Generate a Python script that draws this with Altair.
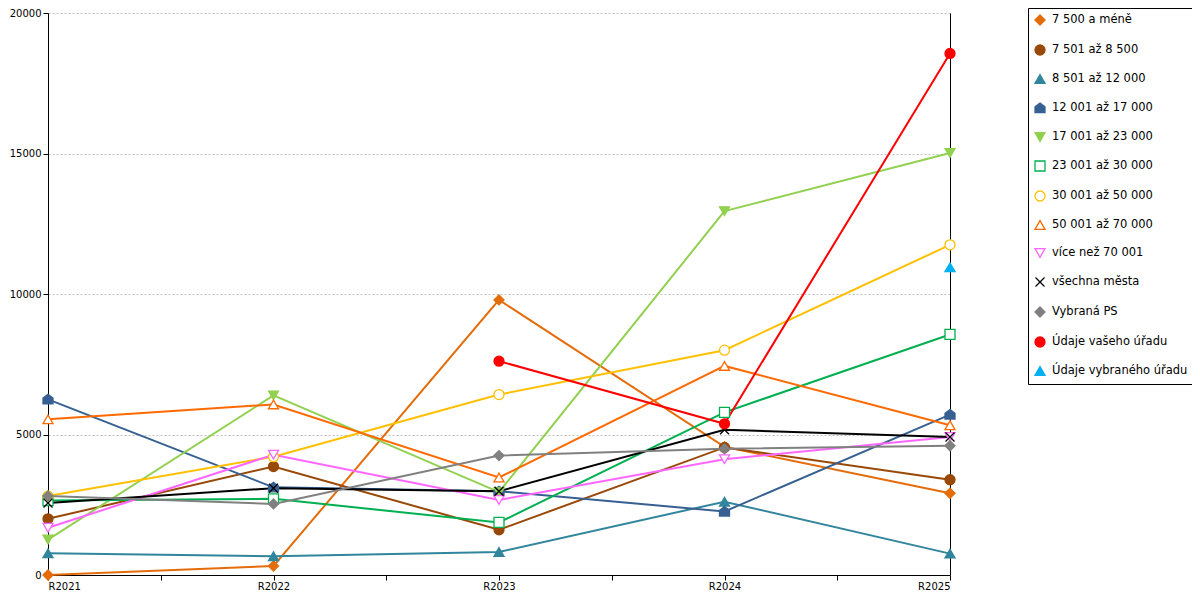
import altair as alt
import pandas as pd

years = ["R2021", "R2022", "R2023", "R2024", "R2025"]

series = [
    "7 500 a méně",
    "7 501 až 8 500",
    "8 501 až 12 000",
    "12 001 až 17 000",
    "17 001 až 23 000",
    "23 001 až 30 000",
    "30 001 až 50 000",
    "50 001 až 70 000",
    "více než 70 001",
    "všechna města",
    "Vybraná PS",
    "Údaje vašeho úřadu",
    "Údaje vybraného úřadu",
]

# values, None = no point
v_do_7500 = [0, 320, 9790, 4560, 2910]
v_7501_8500 = [2000, 3860, 1610, 4540, 3390]
v_8501_12000 = [770, 670, 820, 2610, 760]
v_12001_17000 = [6250, 3120, 2980, 2260, 5710]
v_17001_23000 = [1260, 6390, 2950, 12950, 15020]
v_23001_30000 = [2650, 2710, 1870, 5790, 8560]
v_30001_50000 = [2810, 4210, 6420, 8000, 11750]
v_50001_70000 = [5540, 6070, 3470, 7440, 5330]
v_nad_70001 = [1680, 4280, 2670, 4120, 4910]
v_vsechna = [2560, 3090, 2980, 5170, 4910]
v_vybrana_ps = [2810, 2530, 4250, 4490, 4600]
v_vas_urad = [None, None, 7610, 5380, 18560]
v_vybrany_urad = [None, None, None, None, 10950]

all_values = [
    v_do_7500, v_7501_8500, v_8501_12000, v_12001_17000, v_17001_23000,
    v_23001_30000, v_30001_50000, v_50001_70000, v_nad_70001, v_vsechna,
    v_vybrana_ps, v_vas_urad, v_vybrany_urad,
]

colors = [
    "#E46C0A", "#984807", "#31859C", "#376092", "#92D050", "#00B050",
    "#FFC000", "#FF6A00", "#FF66FF", "#000000", "#808080", "#FF0000", "#00B0F0",
]
house = "M0,-1L1,-0.25L1,0.9L-1,0.9L-1,-0.25Z"
xmark = "M-0.9,-0.9L0.9,0.9M-0.9,0.9L0.9,-0.9"
shapes = [
    "diamond", "circle", "triangle-up", house, "triangle-down", "square",
    "circle", "triangle-up", "triangle-down", xmark, "diamond", "circle", "triangle-up",
]
open_marker = [False, False, False, False, False, True, True, True, True, True, False, False, False]
fills = ["white" if o else c for o, c in zip(open_marker, colors)]

rows = []
for name, vals in zip(series, all_values):
    for i, v in enumerate(vals):
        if v is not None:
            rows.append({"series": name, "idx": i, "value": v})
df = pd.DataFrame(rows)

label_list = "[" + ",".join(f"'{y}'" for y in years) + "]"
x_enc = alt.X(
    "idx:Q",
    scale=alt.Scale(domain=[0, len(years) - 1], nice=False, zero=False),
    axis=alt.Axis(
        values=[i / 2 for i in range(2 * len(years) - 1)],
        labelExpr=f"datum.value % 1 == 0 ? {label_list}[datum.value] : ''",
        title=None, grid=False, domainColor="black", tickColor="black",
        tickSize=5, labelPadding=1, labelFontSize=10, labelColor="black",
    ),
)
y_scale = alt.Scale(domain=[0, 20000], nice=False)

# one shared legend: stroke, fill and shape all on "series"
legend = alt.Legend(
    title=None, orient="none", legendX=980, legendY=-5, direction="vertical",
    strokeColor="black", fillColor="white", padding=6, rowPadding=14,
    labelFontSize=11.5, labelColor="black", symbolSize=100, symbolStrokeWidth=1.3,
    labelOffset=6, labelLimit=300,
)
stroke_enc = alt.Stroke("series:N", scale=alt.Scale(domain=series, range=colors), legend=legend)

lines = (
    alt.Chart(df)
    .mark_line(strokeWidth=2)
    .encode(
        x=x_enc,
        y=alt.Y(
            "value:Q", scale=y_scale,
            axis=alt.Axis(
                values=[0, 5000, 10000, 15000, 20000], format="d", title=None,
                gridColor="#c0c0c0", gridDash=[2, 2], domainColor="black",
                tickColor="black", tickSize=5, labelFontSize=10, labelColor="black",
            ),
        ),
        stroke=stroke_enc,
        detail="series:N",
        order="idx:Q",
    )
)

points = (
    alt.Chart(df)
    .mark_point(size=100, strokeWidth=1.3, opacity=1, filled=False)
    .encode(
        x=x_enc,
        y=alt.Y("value:Q", scale=y_scale, axis=None),
        stroke=stroke_enc,
        fill=alt.Fill("series:N", scale=alt.Scale(domain=series, range=fills), legend=legend),
        shape=alt.Shape("series:N", scale=alt.Scale(domain=series, range=shapes), legend=legend),
    )
)

# plain black line down the right edge of the plot
right_edge = (
    alt.Chart(df)
    .mark_point(opacity=0)
    .encode(
        x=x_enc,
        y=alt.Y(
            "value:Q", scale=y_scale,
            axis=alt.Axis(orient="right", labels=False, ticks=False, grid=False,
                          domainColor="black", title=None),
        ),
    )
)

chart = (
    alt.layer(lines, points, right_edge)
    .resolve_axis(y="independent")
    .properties(
        width=902, height=562,
        padding={"left": 40, "top": 5, "right": 242, "bottom": 17},
        autosize=alt.AutoSizeParams(type="none"),
    )
    .configure(font="DejaVu Sans")
    .configure_view(stroke=None)
)

chart.save("out.html", embed_options={"renderer": "svg", "actions": False})
